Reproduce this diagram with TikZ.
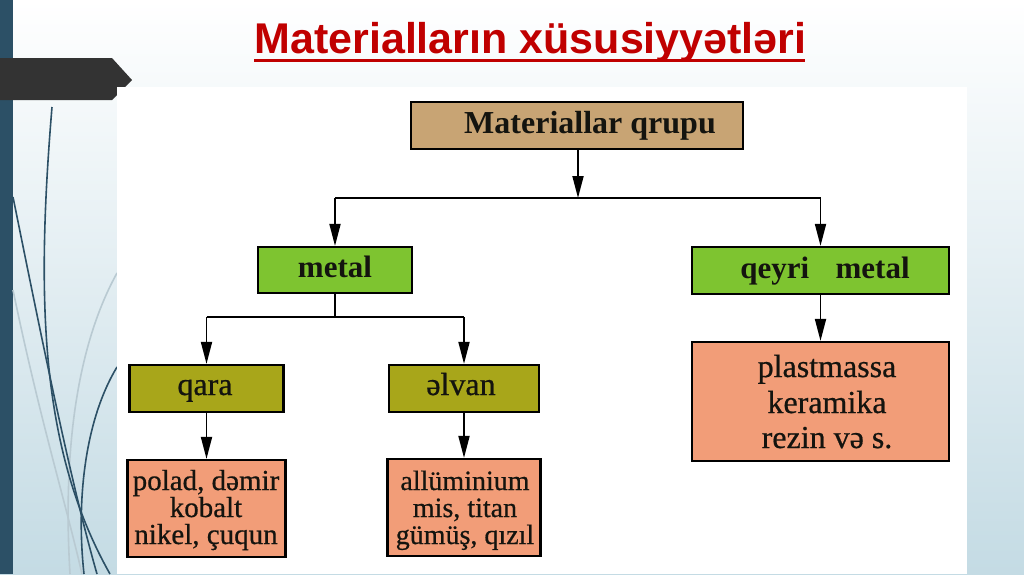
\documentclass[tikz,border=0pt]{standalone}
\usepackage{fontspec}
\setmainfont{Liberation Serif}
\newfontfamily\titlefont{Liberation Sans}
\usetikzlibrary{arrows.meta}
\definecolor{barblue}{RGB}{44,80,102}
\definecolor{arrowgray}{RGB}{51,51,51}
\definecolor{lightwisp}{RGB}{185,202,210}
\definecolor{bgbottom}{RGB}{196,219,228}
\definecolor{titlered}{RGB}{192,0,0}
\definecolor{tanfill}{RGB}{200,164,116}
\definecolor{greenfill}{RGB}{126,196,48}
\definecolor{olivefill}{RGB}{168,166,26}
\definecolor{salmonfill}{RGB}{242,157,120}
\definecolor{inkdark}{RGB}{20,20,15}
\tikzset{
  box/.style={draw=black, line width=2.2pt, rectangle, inner sep=0pt},
  boldlbl/.style={anchor=base, inner sep=0pt, text=inkdark, font=\bfseries\fontsize{#1}{#1}\selectfont},
  reglbl/.style={anchor=base, inner sep=0pt, text=inkdark, font=\fontsize{#1}{#1}\selectfont\addfontfeature{FakeBold=0.6}},
  conn/.style={line width=1.8pt, black},
  arr/.style={conn, -{Triangle[length=22pt,width=11pt]}},
  darkwisp/.style={barblue, line width=1.6pt},
  paleswisp/.style={lightwisp, line width=1.6pt}
}
\begin{document}
\begin{tikzpicture}[x=1pt,y=-1pt]
\useasboundingbox (0,0) rectangle (1024,574);
% slide background
\shade[top color=white, bottom color=bgbottom] (0,0) rectangle (1024,574);
% left bar
\fill[barblue] (0,0) rectangle (13,574);
% wisps
\draw[paleswisp] (13,290) .. controls (40,420) and (65,500) .. (82,574);
\draw[paleswisp] (117,273) .. controls (80,340) and (62,440) .. (70,574);
\draw[darkwisp] (52,107) .. controls (36,300) and (40,450) .. (110,574);
\draw[darkwisp] (13,197) .. controls (40,330) and (70,480) .. (97,574);
\draw[darkwisp] (117,367) .. controls (85,420) and (76,500) .. (84,574);
% arrow shape
\fill[arrowgray] (0,58) -- (112,58) -- (132,80) -- (112,100) -- (0,100) -- cycle;
% white panel
\fill[white] (117,87) rectangle (967,574);
% title
\node[anchor=base, inner sep=0pt, text=titlered, font=\titlefont\bfseries\fontsize{43}{43}\selectfont] (title) at (530.5,53) {Materialların xüsusiyyətləri};
\draw[titlered, line width=3pt] (title.base west) ++(0,7) -- ++(551,0);
% boxes
\node[box, fill=tanfill, minimum width=332pt, minimum height=47pt] (top) at (577,125.5) {};
\node[box, fill=greenfill, minimum width=154pt, minimum height=46pt] (metal) at (335,270) {};
\node[box, fill=greenfill, minimum width=257pt, minimum height=47pt] (qeyri) at (820.5,270.5) {};
\node[box, fill=olivefill, minimum width=154pt, minimum height=47pt] (qara) at (206.5,388.5) {};
\node[box, fill=olivefill, minimum width=150pt, minimum height=47pt] (elvan) at (464,388.5) {};
\node[box, fill=salmonfill, minimum width=158pt, minimum height=97pt] (qbot) at (206.5,508.5) {};
\node[box, fill=salmonfill, minimum width=153pt, minimum height=97pt] (ebot) at (464,507.5) {};
\node[box, fill=salmonfill, minimum width=257pt, minimum height=119pt] (plast) at (820.5,401.5) {};
% labels
\node[boldlbl=32] (ttop) at (590,133) {Materiallar qrupu};
\node[boldlbl=31] (tmetal) at (335,277) {metal};
\node[boldlbl=31] (tqeyri) at (825,278) {qeyri\hspace{0.85em}metal};
\node[reglbl=32] (tqara) at (205,395) {qara};
\node[reglbl=32] (telvan) at (461,395) {əlvan};
\node[reglbl=29] (q1) at (206,490) {polad, dəmir};
\node[reglbl=29] (q2) at (206,517) {kobalt};
\node[reglbl=29] (q3) at (206,544) {nikel, çuqun};
\node[reglbl=28] (e1) at (465,490) {allüminium};
\node[reglbl=28] (e2) at (465,517) {mis, titan};
\node[reglbl=28] (e3) at (465,544) {gümüş, qızıl};
\node[reglbl=32] (p1) at (827,377) {plastmassa};
\node[reglbl=32] (p2) at (827,413) {keramika};
\node[reglbl=32] (p3) at (827,448) {rezin və s.};
% connectors
\coordinate (jl) at (335,198);
\coordinate (jr) at (820.5,198);
\coordinate (jm) at (578,198);
\draw[conn] (jl) -- (jr);
\draw[arr] (top.south -| jm) -- (jm);
\draw[arr] (jl) -- (metal.north);
\draw[arr] (jr) -- (qeyri.north);
\coordinate (ql) at (206.5,317);
\coordinate (er) at (464,317);
\draw[conn] (metal.south) -- (metal.south |- ql);
\draw[conn] (ql) -- (er);
\draw[arr] (ql) -- (qara.north);
\draw[arr] (er) -- (elvan.north);
\draw[arr] (qara.south) -- (qbot.north);
\draw[arr] (elvan.south) -- (ebot.north);
\draw[arr] (qeyri.south) -- (plast.north);
\end{tikzpicture}
\end{document}
